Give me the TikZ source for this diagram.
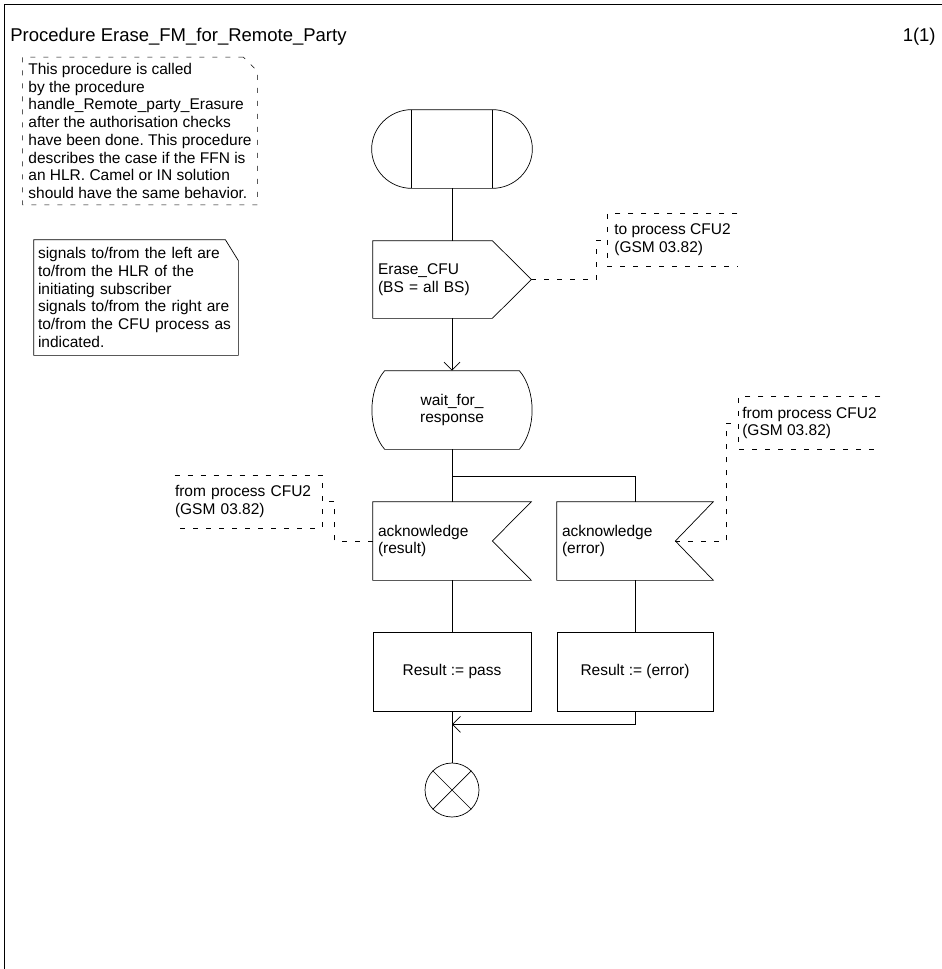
\documentclass[tikz,border=0pt]{standalone}
\usepackage{fontspec}
\setmainfont{Liberation Sans}
\usetikzlibrary{arrows.meta,calc}

\newcommand\sdlfont{\fontsize{15.5}{17.7}\selectfont\frenchspacing}
\newcommand\headfont{\fontsize{18.5}{22}\selectfont}

\begin{document}
\begin{tikzpicture}[x=1pt,y=1pt,yscale=-1,line width=0.7pt,
    every node/.style={font=\sdlfont, inner sep=0pt},
    sdlnode/.style={minimum width=158pt, minimum height=78pt},
    sdlleft/.style={text width=148pt, align=left},
    cmtline/.style={line width=0.6pt, dash pattern=on 5pt off 8pt},
    cmtbox/.style={minimum height=52pt, align=left},
    barb/.style={-{Straight Barb[length=8pt,width=16pt]}}]
    \useasboundingbox (0,0) rectangle (942,969);

    % frame and heading
    \draw (4,969) -- (4,4) -- (942,4);
    \node[anchor=west, font=\headfont] (title) at (10,37) {Procedure Erase\_FM\_for\_Remote\_Party};
    \node[anchor=east, font=\headfont] (page) at (936,37) {1(1)};

    % Text Node: comment at top
    \node[align=left, minimum width=234pt, minimum height=147pt] (intro) at (140,131)
        {This procedure is called\\by the procedure\\handle\_Remote\_party\_Erasure\\after the authorisation checks\\have been done. This procedure\\describes the case if the FFN is\\an HLR. Camel or IN solution\\should have the same behavior.};
    \draw[cmtline] ($(intro.north east)+(-14,0)$) -- (intro.north west) -- (intro.south west) -- (intro.south east) -- ($(intro.north east)+(0,14)$) -- cycle;

    % Text Node: note on signals
    \node[text width=196pt, inner xsep=4pt, align=left, minimum height=115pt] (hint) at (136,297.5)
        {signals to/from the left are\\to/from the HLR of the\\initiating subscriber\\signals to/from the right are\\to/from the CFU process as\\indicated.};
    \draw ($(hint.north east)+(-13,0)$) -- (hint.north west) -- (hint.south west) -- (hint.south east) -- ($(hint.north east)+(0,21)$) -- cycle;

    % symbols
    \node[sdlnode, minimum width=160pt] (start) at (452,149) {};
    \node[sdlnode, sdlleft, minimum height=77pt] (erase) at (452,279.5) {Erase\_CFU\\(BS = all BS)};
    \node[sdlnode, align=center, minimum width=160pt] (wait) at (452,410) {wait\_for\_\\response};
    \node[sdlnode, sdlleft] (ackres) at (452,541) {acknowledge\\(result)};
    \node[sdlnode, sdlleft, minimum width=156pt, text width=146pt] (ackerr) at (635,541) {acknowledge\\(error)};
    \node[sdlnode, draw, minimum height=79pt] (pass) at (452,671.5) {Result := pass};
    \node[sdlnode, draw, minimum width=156pt, minimum height=79pt] (fail) at (635,671.5) {Result := (error)};
    \node[circle, draw, minimum size=54pt] (stop) at (452,790) {};

    %Shape: start
    \draw ($(start.north west)+(40,0)$) -- ($(start.north east)+(-40,0)$)
        .. controls ($(start.north east)+(-18,0)$) and ($(start.east)+(0,-21.5)$) .. (start.east)
        .. controls ($(start.east)+(0,21.5)$) and ($(start.south east)+(-18,0)$) .. ($(start.south east)+(-40,0)$)
        -- ($(start.south west)+(40,0)$)
        .. controls ($(start.south west)+(18,0)$) and ($(start.west)+(0,21.5)$) .. (start.west)
        .. controls ($(start.west)+(0,-21.5)$) and ($(start.north west)+(18,0)$) .. ($(start.north west)+(40,0)$) -- cycle;
    \draw ($(start.north west)+(40,0)$) -- ($(start.south west)+(40,0)$)
        ($(start.north east)+(-40,0)$) -- ($(start.south east)+(-40,0)$);
    %Shape: output
    \draw (erase.north west) -- ($(erase.north east)+(-39,0)$) -- (erase.east) -- ($(erase.south east)+(-39,0)$) -- (erase.south west) -- cycle;
    %Shape: state
    \draw ($(wait.north west)+(13,0)$) -- ($(wait.north east)+(-13,0)$)
        .. controls ($(wait.north east)+(4,20)$) and ($(wait.south east)+(4,-20)$) .. ($(wait.south east)+(-13,0)$)
        -- ($(wait.south west)+(13,0)$)
        .. controls ($(wait.south west)+(-4,-20)$) and ($(wait.north west)+(-4,20)$) .. ($(wait.north west)+(13,0)$) -- cycle;
    %Shape: inputs
    \draw (ackres.north west) -- (ackres.north east) -- ($(ackres.east)+(-39,0)$) -- (ackres.south east) -- (ackres.south west) -- cycle;
    \coordinate (errnotch) at ($(ackerr.east)+(-38,0)$);
    \draw (ackerr.north west) -- (ackerr.north east) -- (errnotch) -- (ackerr.south east) -- (ackerr.south west) -- cycle;
    %Shape: stop
    \draw (stop.north west) -- (stop.south east) (stop.north east) -- (stop.south west);

    % flow lines
    \coordinate (split) at ($(wait.south)+(0,27)$);
    \coordinate (merge) at ($(pass.south)+(0,13)$);
    \draw (start.south) -- (erase.north);
    \draw[barb] (erase.south) -- (wait.north);
    \draw (wait.south) -- (ackres.north);
    \draw (split) -| (ackerr.north);
    \draw (ackres.south) -- (pass.north);
    \draw (ackerr.south) -- (fail.north);
    \draw (pass.south) -- (stop.north);
    \draw[barb] (fail.south) |- (merge);

    % comments
    \node[cmtbox, minimum width=129pt] (tocfu) at (672.5,240) {to process CFU2\\(GSM 03.82)};
    \node[cmtbox, text width=147pt] (fromres) at (248.5,501.5) {from process CFU2\\(GSM 03.82)};
    \node[cmtbox, minimum width=141pt] (fromerr) at (809.5,423) {from process CFU2\\(GSM 03.82)};
    \draw[cmtline] (tocfu.north east) -- (tocfu.north west) -- (tocfu.south west) -- (tocfu.south east);
    \draw[cmtline] (fromres.north west) -- (fromres.north east) -- (fromres.south east) -- (fromres.south west);
    \draw[cmtline] (fromerr.north east) -- (fromerr.north west) -- (fromerr.south west) -- (fromerr.south east);
    \draw[cmtline] (erase.east) -| ($(tocfu.west)+(-11,0)$) -- (tocfu.west);
    \draw[cmtline] (ackres.west) -| ($(fromres.east)+(12,0)$) -- (fromres.east);
    \draw[cmtline] (errnotch) -| ($(fromerr.west)+(-12,0)$) -- (fromerr.west);
\end{tikzpicture}
\end{document}
